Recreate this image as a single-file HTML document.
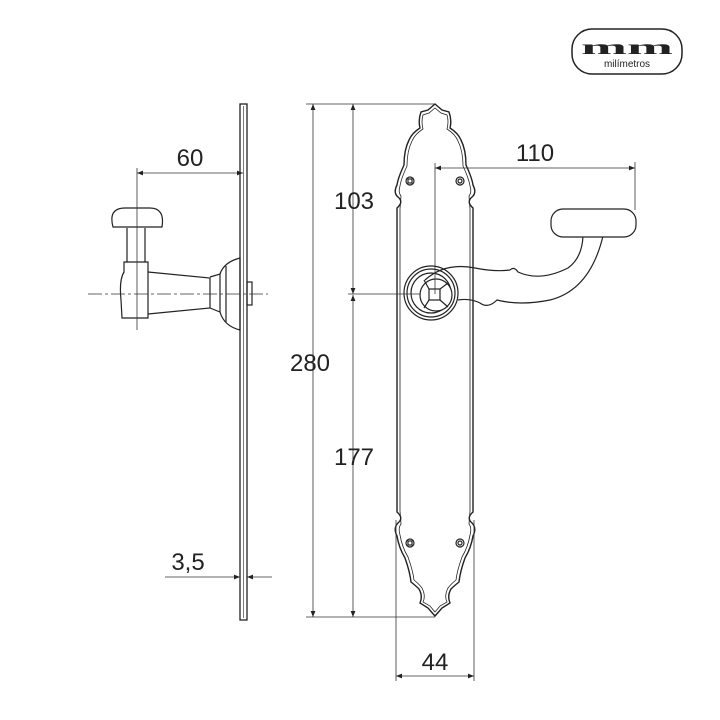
<!DOCTYPE html>
<html><head><style>body{margin:0;background:#fff}svg{display:block}text{font-family:"Liberation Sans",sans-serif;fill:#222}</style></head>
<body>
<svg width="720" height="720" viewBox="0 0 720 720" xmlns="http://www.w3.org/2000/svg">
<defs><marker id="a" viewBox="0 0 10 10" refX="10" refY="5" markerWidth="9" markerHeight="6" orient="auto-start-reverse" markerUnits="userSpaceOnUse"><path d="M0,1L10,5L0,9z" fill="#222"/></marker></defs>
<g fill="none" stroke="#222" stroke-width="1.2">
<!-- logo -->
<rect x="572" y="29" width="110" height="45" rx="20" stroke-width="1.5"/>
<!-- side plate -->
<rect x="240" y="104" width="7" height="516" stroke-width="1.3"/>
<line x1="243.5" y1="106" x2="243.5" y2="618" stroke-width="0.6"/>
<!-- side handle -->
<path d="M113,227 Q108,208 125,208 L150,208 Q165,208 162,227 Z"/>
<path d="M127,228 L127,262 M145,228 L145,262"/>
<path d="M124,262 L124,272 Q119,280 121,300 L122,318 L148,318 L148,262 Z"/>
<path d="M148,272 L210,278 L210,308 L148,314"/>
<path d="M210,277 L220,274 L220,312 L210,308"/>
<path d="M220,274 Q224,262 240,258 L240,330 Q224,326 220,312"/>
<path d="M226,266 L226,322"/>
<rect x="247" y="282" width="5" height="23"/>
<!-- front plate -->
<path d="M435,104 L428,110 L421,112 Q418,120 420,128 Q412,133 409,140 Q404,150 404,165 Q398,178 397,185 Q393,193 398,197 Q404,202 397,208 L397,512 Q404,518 398,523 Q393,528 397,536 Q399,548 405,558 Q410,572 411,582 Q416,586 419,589 Q423,596 420,603 L428,608 L435,616 L442,608 L450,603 Q447,596 451,589 Q454,586 459,582 Q460,572 465,558 Q471,548 473,536 Q477,528 472,523 Q466,518 473,512 L473,208 Q466,202 472,197 Q477,193 473,185 Q472,178 466,165 Q466,150 461,140 Q458,133 450,128 Q452,120 449,112 L442,110 Z" stroke-width="1.4"/>
<path d="M435,108 L429,113 L423,115 Q421,121 423,129 Q415,134 412,141 Q407,151 407,166 Q401,179 400,186 Q398,192 401,196 L400,209 L400,511 L401,524 Q398,528 400,535 Q402,547 408,557 Q413,571 414,580 Q419,584 422,588 Q426,596 423,602 L430,606 L435,612 L440,606 L447,602 Q444,596 448,588 Q451,584 456,580 Q457,571 462,557 Q468,547 470,535 Q472,528 469,524 L470,511 L470,209 L469,196 Q472,192 470,186 Q469,179 463,166 Q463,151 458,141 Q455,134 447,129 Q449,121 447,115 L441,113 Z" stroke-width="0.8"/>
<circle cx="410" cy="181" r="4"/><rect x="408" y="179" width="4" height="4"/>
<circle cx="460" cy="181" r="4"/><circle cx="460" cy="181" r="2"/>
<circle cx="410" cy="543" r="4"/><rect x="408" y="541" width="4" height="4"/>
<circle cx="460" cy="543" r="4"/><circle cx="460" cy="543" r="2"/>
<!-- rosette and lever -->
<circle cx="431" cy="293" r="27"/><circle cx="431" cy="293" r="24"/><circle cx="431" cy="293" r="20"/>
<circle cx="436" cy="295" r="16" fill="#fff"/>
<rect x="429" y="289" width="11" height="11"/>
<path d="M424,280 L429,289 M448,283 L440,289 M424,308 L429,300 M448,307 L440,300"/>
<path d="M425,280 Q445,262 475,268 Q495,272 510,270 Q514,266 518,272 Q540,282 568,268 Q582,258 583,236"/>
<path d="M458,300 Q470,298 480,303 Q488,309 497,300 Q520,306 550,300 Q590,290 603,236"/>
<rect x="551" y="209" width="85" height="28" rx="12" fill="#fff"/>
</g>
<!-- dimension lines -->
<g stroke="#333" stroke-width="0.8" fill="none">
<line x1="88" y1="294" x2="268" y2="294" stroke-dasharray="14,3,3,3"/>
<line x1="137" y1="168" x2="137" y2="330"/>
<line x1="137" y1="173" x2="243" y2="173" marker-start="url(#a)" marker-end="url(#a)"/>
<line x1="165" y1="577" x2="240" y2="577" marker-end="url(#a)"/>
<line x1="272" y1="577" x2="247" y2="577" marker-end="url(#a)"/>
<line x1="306" y1="104" x2="435" y2="104"/>
<line x1="306" y1="617" x2="435" y2="617"/>
<line x1="313" y1="104" x2="313" y2="617" marker-start="url(#a)" marker-end="url(#a)"/>
<line x1="353" y1="104" x2="353" y2="294" marker-start="url(#a)" marker-end="url(#a)"/>
<line x1="353" y1="295" x2="353" y2="617" marker-start="url(#a)" marker-end="url(#a)"/>
<line x1="348" y1="294" x2="420" y2="294"/>
<line x1="435" y1="163" x2="435" y2="294"/>
<line x1="635" y1="162" x2="635" y2="210"/>
<line x1="435" y1="168" x2="635" y2="168" marker-start="url(#a)" marker-end="url(#a)"/>
<line x1="396" y1="520" x2="396" y2="681"/>
<line x1="474" y1="520" x2="474" y2="681"/>
<line x1="396" y1="676" x2="474" y2="676" marker-start="url(#a)" marker-end="url(#a)"/>
</g>
<g font-size="24" text-anchor="middle">
<text x="190" y="166">60</text>
<text x="188" y="570">3,5</text>
<text x="310" y="371">280</text>
<text x="354" y="209">103</text>
<text x="354" y="465">177</text>
<text x="535" y="161">110</text>
<text x="435" y="670">44</text>
</g>
<text x="627" y="54" font-size="20" font-weight="bold" text-anchor="middle" textLength="92" lengthAdjust="spacingAndGlyphs" style="font-family:'Liberation Serif',serif">mm</text>
<text x="627" y="67" font-size="10" text-anchor="middle">milímetros</text>
</svg>
</body></html>
